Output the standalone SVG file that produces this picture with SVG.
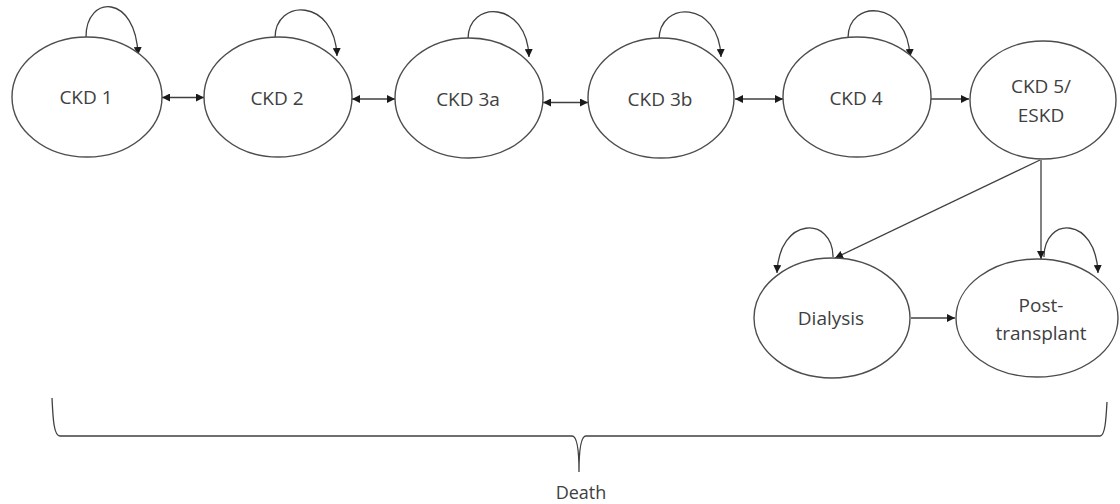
<svg xmlns="http://www.w3.org/2000/svg" width="1120" height="504" viewBox="0 0 1120 504">
<defs>
<marker id="ah" viewBox="0 0 10 10" refX="10" refY="5" markerWidth="8" markerHeight="8" markerUnits="userSpaceOnUse" orient="auto-start-reverse">
<path d="M0,0 L10,5 L0,10 z" fill="#1a1a1a"/>
</marker>
<style>
.node ellipse{fill:#ffffff;stroke:#4d4d4d;stroke-width:1.4}
.lbl{font-family:"Open Sans","Noto Sans",sans-serif;font-size:19px;fill:#404040;text-anchor:middle}
.c{fill:none;stroke:#404040;stroke-width:1.3}
.bi{marker-start:url(#ah);marker-end:url(#ah)}
.one{marker-end:url(#ah)}
</style>
</defs>
<rect width="1120" height="504" fill="#ffffff"/>
<g id="connectors">
<line class="c bi" x1="162" y1="97.5" x2="204" y2="97.5"/>
<line class="c bi" x1="352" y1="99" x2="395" y2="99"/>
<line class="c bi" x1="543" y1="102.5" x2="588" y2="102.5"/>
<line class="c bi" x1="735" y1="99" x2="783" y2="99"/>
<line class="c one" x1="930" y1="99" x2="969" y2="99"/>
<line class="c one" x1="1040" y1="160" x2="835" y2="258"/>
<line class="c one" x1="1041" y1="160" x2="1041" y2="259"/>
<line class="c one" x1="911" y1="318" x2="955" y2="318"/>
<path class="c one" d="M86,37 C86,-6 136,-6 138,55"/>
<path class="c one" d="M275,38 C275,-2 335,-2 337,56"/>
<path class="c one" d="M468,39 C468,0 527,0 529,57"/>
<path class="c one" d="M659,40 C659,0 719,0 721,57"/>
<path class="c one" d="M848,38 C848,-1 908,-1 910,57"/>
<path class="c one" d="M833,257 C833,216 779,216 777,273"/>
<path class="c one" d="M1044,257 C1044,216 1096,216 1098,273"/>
</g>
<g id="ckd1" class="node"><ellipse cx="87" cy="97" rx="75" ry="60"/><text class="lbl" x="86" y="104">CKD 1</text></g>
<g id="ckd2" class="node"><ellipse cx="278" cy="97" rx="74" ry="60"/><text class="lbl" x="277" y="105">CKD 2</text></g>
<g id="ckd3a" class="node"><ellipse cx="469" cy="98" rx="74" ry="60"/><text class="lbl" x="468" y="106">CKD 3a</text></g>
<g id="ckd3b" class="node"><ellipse cx="661" cy="98" rx="73" ry="60"/><text class="lbl" x="660" y="106">CKD 3b</text></g>
<g id="ckd4" class="node"><ellipse cx="857" cy="97" rx="74" ry="60"/><text class="lbl" x="856" y="105">CKD 4</text></g>
<g id="ckd5" class="node"><ellipse cx="1043" cy="100" rx="73" ry="59"/><text class="lbl" x="1041" y="93">CKD 5/</text><text class="lbl" x="1041" y="122">ESKD</text></g>
<g id="dialysis" class="node"><ellipse cx="832" cy="318" rx="78" ry="60"/><text class="lbl" x="831" y="325">Dialysis</text></g>
<g id="posttransplant" class="node"><ellipse cx="1037" cy="318" rx="81" ry="59"/><text class="lbl" x="1041" y="312">Post-</text><text class="lbl" x="1041" y="340">transplant</text></g>
<g id="death">
<path class="c" d="M52,398 C53,420 54,436 60,436 L572,436 C577,436 579,450 579,472 C579,450 581,436 586,436 L1100,436 C1105,436 1106,420 1107,402"/>
<text class="lbl" x="581" y="499" style="font-size:18px">Death</text>
</g>
</svg>
